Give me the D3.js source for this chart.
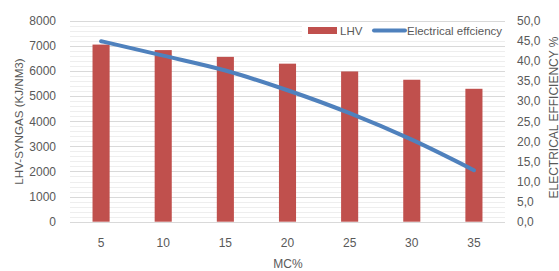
<!DOCTYPE html>
<html><head><meta charset="utf-8">
<script src="https://cdn.jsdelivr.net/npm/d3@7"></script>
<style>body{margin:0;background:#fff}svg text{font-family:"Liberation Sans","Open Sans",sans-serif;fill:#595959}</style>
</head><body><svg id="c" width="559" height="271"></svg>
<script>
const categories = ["5","10","15","20","25","30","35"];
const lhvValues = [7050, 6830, 6560, 6290, 5980, 5650, 5290];
const effValues = [44.9, 41.3, 37.6, 32.7, 27.0, 20.4, 12.8];
const leftTicks = [0,1000,2000,3000,4000,5000,6000,7000,8000];
const rightTicks = [0,5,10,15,20,25,30,35,40,45,50];
const seriesNames = ["LHV","Electrical effciency"];

const svg = d3.select("#c");
const L = 70, R = 505, T = 20.7, B = 221.7;
const x = d3.scaleBand().domain(categories).range([L, R]).paddingInner(0.725).paddingOuter(0.3625);
const yL = d3.scaleLinear().domain([0, 8000]).range([B, T]);
const yR = d3.scaleLinear().domain([0, 50]).range([B, T]);

// minor gridlines
const minor = d3.range(0, 8001, 200).filter(v => v % 1000 !== 0);
svg.append("g").selectAll("line").data(minor).join("line")
  .attr("x1", L).attr("x2", R).attr("y1", d => Math.round(yL(d)) + 0.5).attr("y2", d => Math.round(yL(d)) + 0.5)
  .attr("stroke", "#eeeeee").attr("stroke-width", 1);
svg.append("g").selectAll("line").data(leftTicks).join("line")
  .attr("x1", L).attr("x2", R).attr("y1", d => Math.round(yL(d)) + 0.5).attr("y2", d => Math.round(yL(d)) + 0.5)
  .attr("stroke", "#d9d9d9").attr("stroke-width", 1);

// legend background
svg.append("rect").attr("x", 302).attr("y", 22).attr("width", 203).attr("height", 16).attr("fill", "#fff");

// bars
svg.append("g").selectAll("rect").data(lhvValues).join("rect")
  .attr("x", (d, i) => x(categories[i])).attr("width", x.bandwidth())
  .attr("y", d => yL(d)).attr("height", d => B - yL(d)).attr("fill", "#C0504D");

// line
const line = d3.line().x((d, i) => x(categories[i]) + x.bandwidth() / 2).y(d => yR(d)).curve(d3.curveMonotoneX);
svg.append("path").datum(effValues).attr("d", line).attr("fill", "none")
  .attr("stroke", "#4F81BD").attr("stroke-width", 4).attr("stroke-linecap", "round");

// axes
const axL = svg.append("g").attr("transform", `translate(${L - 14},0)`)
  .call(d3.axisLeft(yL).tickValues(leftTicks).tickSize(0).tickPadding(0).tickFormat(d3.format("d")));
axL.select(".domain").remove();
axL.selectAll("text").attr("font-size", 12);

const axR = svg.append("g").attr("transform", `translate(${R + 12},0)`)
  .call(d3.axisRight(yR).tickValues(rightTicks).tickSize(0).tickPadding(0).tickFormat(d => d.toFixed(1).replace(".", ",")));
axR.select(".domain").remove();
axR.selectAll("text").attr("font-size", 12);

const axX = svg.append("g").attr("transform", `translate(0,${B + 16.5})`)
  .call(d3.axisBottom(x).tickSize(0).tickPadding(0));
axX.select(".domain").remove();
axX.selectAll("text").attr("font-size", 12);

// titles
svg.append("text").attr("transform", "translate(23,121.5) rotate(-90)").attr("text-anchor", "middle")
  .attr("font-size", 11.6).text("LHV-SYNGAS (KJ/NM3)");
svg.append("text").attr("transform", "translate(557.5,117.5) rotate(-90)").attr("text-anchor", "middle")
  .attr("font-size", 12).text("ELECTRICAL EFFICIENCY %");
svg.append("text").attr("x", 288).attr("y", 268).attr("text-anchor", "middle").attr("font-size", 12).text("MC%");

// legend
svg.append("rect").attr("x", 308).attr("y", 27).attr("width", 29).attr("height", 7).attr("fill", "#C0504D");
svg.append("text").attr("x", 340).attr("y", 34.5).attr("font-size", 11.5).text(seriesNames[0]);
svg.append("line").attr("x1", 374).attr("x2", 405).attr("y1", 30.5).attr("y2", 30.5)
  .attr("stroke", "#4F81BD").attr("stroke-width", 4).attr("stroke-linecap", "round");
svg.append("text").attr("x", 407).attr("y", 34.5).attr("font-size", 11.5).text(seriesNames[1]);
</script></body></html>
